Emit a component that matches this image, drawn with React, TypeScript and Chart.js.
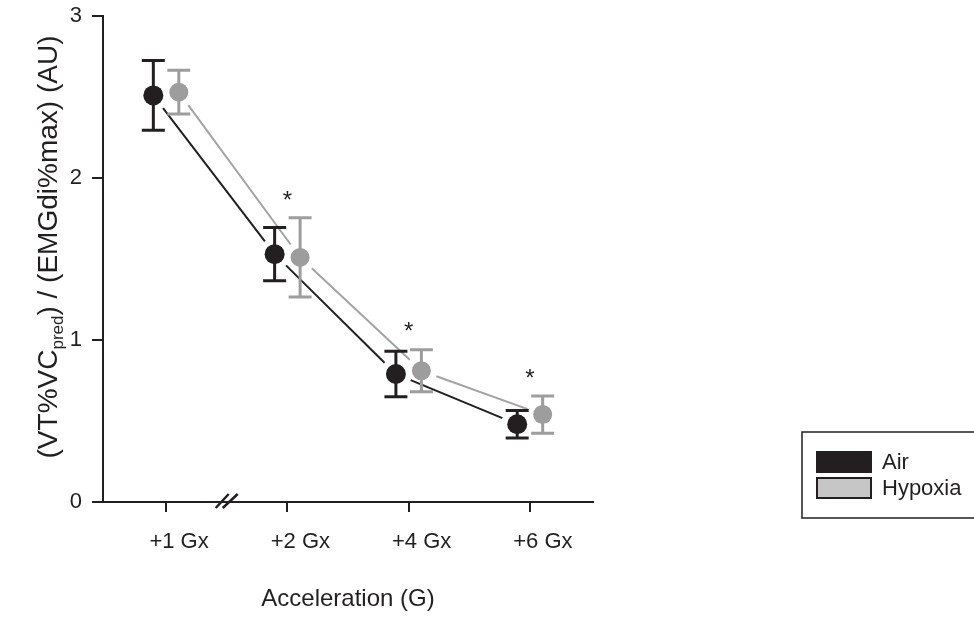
import React, { useEffect, useRef } from "react";
import { Chart, registerables } from "chart.js";

Chart.register(...registerables);

// ---- Data ----
const categories = ["+1 Gx", "+2 Gx", "+4 Gx", "+6 Gx"];
const categoryPositions = [1, 2, 3, 4];
const airMean = [2.51, 1.53, 0.79, 0.48];
const airErr = [0.215, 0.165, 0.14, 0.085];
const hypoxiaMean = [2.53, 1.51, 0.81, 0.54];
const hypoxiaErr = [0.135, 0.245, 0.13, 0.115];
const starValues: (number | null)[] = [null, 1.9, 1.09, 0.8];
const yTicks = [0, 1, 2, 3];
const seriesOffset = 0.105;
const axisBreakAt = 1.5;

const BLACK = "#231f20";
const GRAY = "#9d9d9d";
const GRAY_LINE = "#a3a3a3";
const LEGEND_GRAY = "#c6c6c6";
const FONT = "'Liberation Sans', Arial, Helvetica, sans-serif";

const errors = [airErr, hypoxiaErr];
const means = [airMean, hypoxiaMean];
const lineColors = [BLACK, GRAY_LINE];
const barColors = [BLACK, GRAY];

const customPlugin = {
  id: "custom",
  beforeDatasetsDraw(chart: any) {
    const ctx = chart.ctx;
    const ys = chart.scales.y;
    ctx.save();
    // connecting lines with gaps around markers
    for (let d = 0; d < 2; d++) {
      const meta = chart.getDatasetMeta(d);
      ctx.strokeStyle = lineColors[d];
      ctx.lineWidth = 2;
      for (let i = 0; i < meta.data.length - 1; i++) {
        const p0 = meta.data[i];
        const p1 = meta.data[i + 1];
        const dx = p1.x - p0.x;
        const dy = p1.y - p0.y;
        const len = Math.hypot(dx, dy);
        const ux = dx / len;
        const uy = dy / len;
        const gap = 16;
        ctx.beginPath();
        ctx.moveTo(p0.x + ux * gap, p0.y + uy * gap);
        ctx.lineTo(p1.x - ux * gap, p1.y - uy * gap);
        ctx.stroke();
      }
    }
    // error bars
    for (let d = 0; d < 2; d++) {
      const meta = chart.getDatasetMeta(d);
      ctx.strokeStyle = barColors[d];
      ctx.lineWidth = 3;
      meta.data.forEach((p: any, i: number) => {
        const top = ys.getPixelForValue(means[d][i] + errors[d][i]);
        const bot = ys.getPixelForValue(means[d][i] - errors[d][i]);
        const hw = 11.5;
        ctx.beginPath();
        ctx.moveTo(p.x, top);
        ctx.lineTo(p.x, bot);
        ctx.moveTo(p.x - hw, top);
        ctx.lineTo(p.x + hw, top);
        ctx.moveTo(p.x - hw, bot);
        ctx.lineTo(p.x + hw, bot);
        ctx.stroke();
      });
    }
    ctx.restore();
  },
  afterDraw(chart: any) {
    const ctx = chart.ctx;
    const xs = chart.scales.x;
    const ys = chart.scales.y;
    ctx.save();
    // significance stars
    ctx.fillStyle = BLACK;
    ctx.font = `24px ${FONT}`;
    ctx.textAlign = "center";
    ctx.textBaseline = "alphabetic";
    starValues.forEach((v, i) => {
      if (v == null) return;
      const x = xs.getPixelForValue(categoryPositions[i]);
      const y = ys.getPixelForValue(v);
      ctx.fillText("*", x, y + 14);
    });

    // axis break
    const bx = xs.getPixelForValue(axisBreakAt);
    const by = chart.chartArea.bottom;
    ctx.strokeStyle = BLACK;
    ctx.lineWidth = 2.5;
    ctx.beginPath();
    ctx.moveTo(bx - 11, by + 6);
    ctx.lineTo(bx + 2, by - 8);
    ctx.moveTo(bx - 4, by + 6);
    ctx.lineTo(bx + 11, by - 8);
    ctx.stroke();

    // y-axis title with subscript
    ctx.save();
    ctx.translate(57, 247);
    ctx.rotate(-Math.PI / 2);
    ctx.fillStyle = BLACK;
    ctx.textAlign = "left";
    ctx.textBaseline = "alphabetic";
    const mainFont = `28px ${FONT}`;
    const subFont = `17px ${FONT}`;
    const parts = [
      { t: "(VT%VC", f: mainFont, dy: 0 },
      { t: "pred", f: subFont, dy: 6 },
      { t: ") / (EMGdi%max) (AU)", f: mainFont, dy: 0 },
    ];
    let total = 0;
    parts.forEach((p) => {
      ctx.font = p.f;
      total += ctx.measureText(p.t).width;
    });
    let cx = -total / 2;
    parts.forEach((p) => {
      ctx.font = p.f;
      ctx.fillText(p.t, cx, p.dy);
      cx += ctx.measureText(p.t).width;
    });
    ctx.restore();

    // legend
    ctx.strokeStyle = BLACK;
    ctx.lineWidth = 1.5;
    ctx.strokeRect(802, 432, 200, 86);
    const labels = chart.data.datasets.map((d: any) => d.label);
    const fills = [BLACK, LEGEND_GRAY];
    ctx.font = `22px ${FONT}`;
    ctx.textAlign = "left";
    ctx.textBaseline = "middle";
    labels.forEach((lab: string, i: number) => {
      const y = 452 + i * 26;
      ctx.fillStyle = fills[i];
      ctx.fillRect(817, y, 54, 20);
      ctx.lineWidth = 2;
      ctx.strokeStyle = BLACK;
      ctx.strokeRect(817, y, 54, 20);
      ctx.fillStyle = BLACK;
      ctx.fillText(lab, 882, y + 11);
    });
    ctx.restore();
  },
};

export default function App() {
  const ref = useRef<HTMLCanvasElement | null>(null);

  useEffect(() => {
    if (!ref.current) return;
    const chart = new Chart(ref.current, {
      type: "scatter",
      data: {
        datasets: [
          {
            label: "Air",
            data: categoryPositions.map((p, i) => ({ x: p - seriesOffset, y: airMean[i] })),
            pointRadius: 10,
            pointBackgroundColor: BLACK,
            pointBorderWidth: 0,
            borderColor: BLACK,
            showLine: false,
          },
          {
            label: "Hypoxia",
            data: categoryPositions.map((p, i) => ({ x: p + seriesOffset, y: hypoxiaMean[i] })),
            pointRadius: 9.5,
            pointBackgroundColor: GRAY,
            pointBorderWidth: 0,
            borderColor: GRAY,
            showLine: false,
          },
        ],
      },
      options: {
        animation: false,
        responsive: false,
        devicePixelRatio: 1,
        layout: { padding: { left: 43, right: 381, top: 16, bottom: 0 } },
        plugins: {
          legend: { display: false },
          tooltip: { enabled: false },
        },
        scales: {
          x: {
            type: "linear",
            position: "bottom",
            min: 0.48,
            max: 4.52,
            afterBuildTicks: (axis: any) => {
              axis.ticks = categoryPositions.map((v) => ({ value: v }));
            },
            afterFit: (s: any) => {
              s.height = 118;
              s.paddingLeft = 0;
              s.paddingRight = 0;
            },
            ticks: {
              callback: (_v: any, i: number) => categories[i] ?? "",
              font: { size: 22, family: FONT },
              color: BLACK,
              padding: 17,
              labelOffset: 13,
              maxRotation: 0,
              autoSkip: false,
            },
            grid: {
              drawOnChartArea: false,
              drawTicks: true,
              tickLength: 10,
              color: BLACK,
              lineWidth: 2,
            },
            border: { color: BLACK, width: 2 },
            title: {
              display: true,
              text: "Acceleration (G)",
              font: { size: 24, family: FONT },
              color: BLACK,
              padding: { top: 0, bottom: 6 },
            },
          },
          y: {
            type: "linear",
            min: 0,
            max: 3,
            afterBuildTicks: (axis: any) => {
              axis.ticks = yTicks.map((v) => ({ value: v }));
            },
            afterFit: (s: any) => {
              s.width = 60;
              s.paddingTop = 0;
              s.paddingBottom = 0;
            },
            ticks: {
              callback: (v: any) => String(v),
              font: { size: 22, family: FONT },
              color: BLACK,
              padding: 10,
            },
            grid: {
              drawOnChartArea: false,
              drawTicks: true,
              tickLength: 11,
              color: BLACK,
              lineWidth: 2,
            },
            border: { color: BLACK, width: 2 },
          },
        },
      },
      plugins: [customPlugin],
    } as any);
    return () => chart.destroy();
  }, []);

  return (
    <div style={{ position: "fixed", left: 0, top: 0, width: 974, height: 620, background: "#fff" }}>
      <canvas ref={ref} width={974} height={620} style={{ display: "block" }} />
    </div>
  );
}
